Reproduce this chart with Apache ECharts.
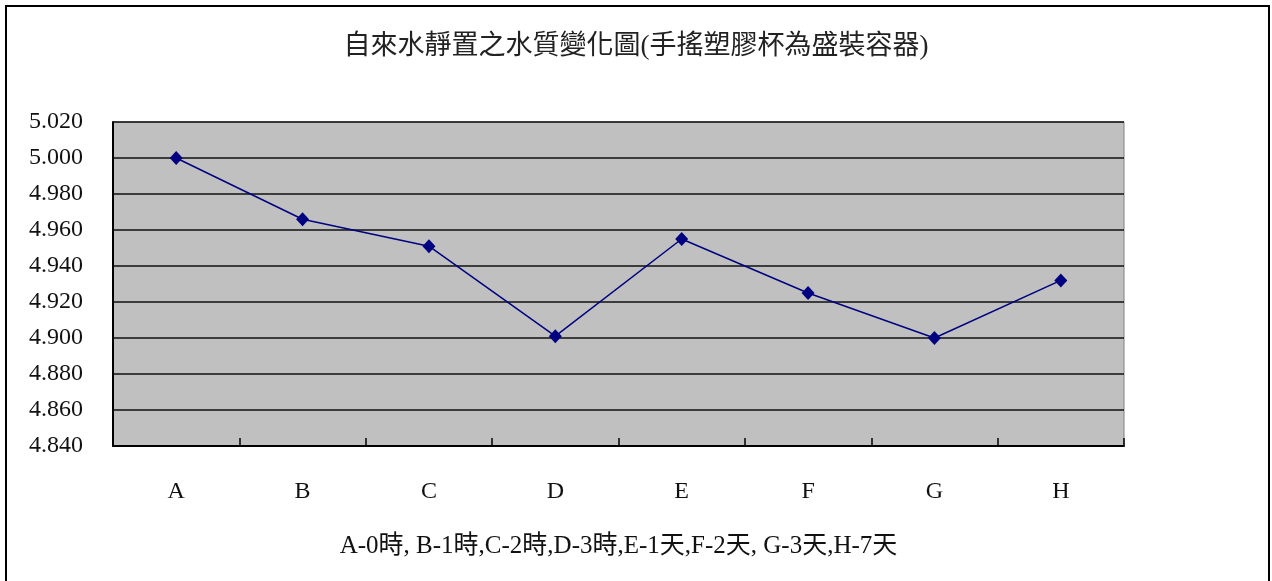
<!DOCTYPE html>
<html><head><meta charset="utf-8">
<script src="https://cdn.jsdelivr.net/npm/echarts@6/dist/echarts.min.js"></script>
<style>html,body{margin:0;padding:0;background:#fff}#c{width:1272px;height:581px}</style>
</head><body><div id="c"></div>
<script>
const titleText = '自來水靜置之水質變化圖(手搖塑膠杯為盛裝容器)';
const xAxisName = 'A-0時, B-1時,C-2時,D-3時,E-1天,F-2天, G-3天,H-7天';
const categories = ['A','B','C','D','E','F','G','H'];
const values = [5.000, 4.966, 4.951, 4.901, 4.955, 4.925, 4.900, 4.932];
const yMin = 4.84, yMax = 5.02, yStep = 0.02;

const FONT = '"Liberation Serif", "Noto Sans CJK TC", serif';
const chart = echarts.init(document.getElementById('c'));
chart.setOption({
  backgroundColor: '#fff',
  animation: false,
  title: {
    text: titleText, left: 'center', top: 28,
    textStyle: {fontFamily: FONT, fontSize: 27, fontWeight: 'normal', color: '#222'}
  },
  graphic: [{
    type: 'rect', shape: {x: 6, y: 6, width: 1263, height: 600},
    style: {fill: null, stroke: '#000', lineWidth: 2}, silent: true, z: 100
  }],
  grid: {left: 113, right: 148, top: 122, bottom: 135, show: true,
    backgroundColor: '#c0c0c0', borderColor: '#808080', borderWidth: 1},
  xAxis: {
    type: 'category', data: categories, boundaryGap: true, z: 10,
    name: xAxisName, nameLocation: 'middle', nameGap: 88,
    nameTextStyle: {fontFamily: FONT, fontSize: 25, color: '#111'},
    axisLine: {lineStyle: {color: '#000', width: 2}},
    axisTick: {show: true, inside: true, length: 8, interval: 0, lineStyle: {color: '#000', width: 1.5}},
    axisLabel: {fontFamily: FONT, fontSize: 24, color: '#111', margin: 34},
    splitLine: {show: false}
  },
  yAxis: {
    type: 'value', min: yMin, max: yMax, interval: yStep, z: 10,
    axisLine: {show: true, lineStyle: {color: '#000', width: 2}},
    axisTick: {show: false},
    axisLabel: {fontFamily: FONT, fontSize: 24, color: '#111', margin: 30,
      formatter: v => v.toFixed(3)},
    splitLine: {lineStyle: {color: '#111', width: 1.6}}
  },
  series: [{
    type: 'line', data: values, z: 20,
    symbol: 'diamond', symbolSize: [13, 14],
    itemStyle: {color: '#000080'},
    lineStyle: {color: '#000080', width: 1.5}
  }]
});
</script></body></html>
